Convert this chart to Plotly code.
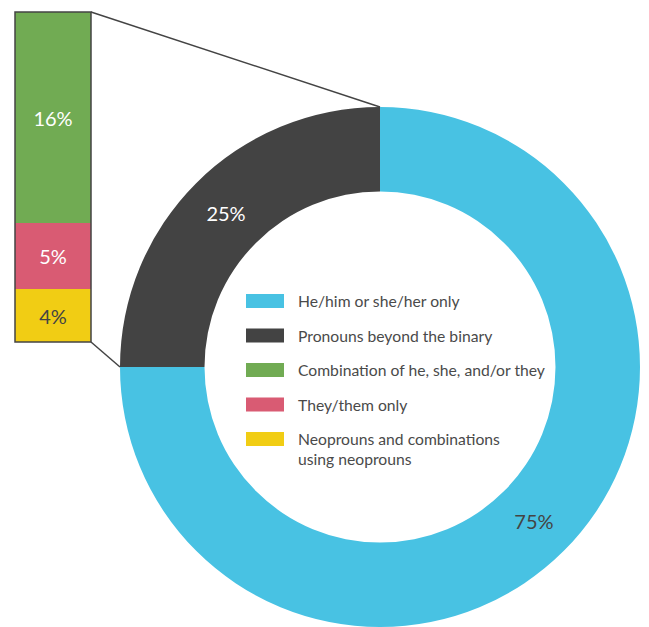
import plotly.graph_objects as go

# ---- data ----
pie_labels = ["He/him or she/her only", "Pronouns beyond the binary"]
pie_values = [75, 25]
pie_colors = ["#48C2E3", "#434343"]
pie_text_colors = ["#444444", "#FFFFFF"]

bar_labels = ["Combination of he, she, and/or they", "They/them only",
              "Neoprouns and combinations<br>using neoprouns"]
bar_values = [16, 5, 4]
bar_colors = ["#71AB53", "#D95B73", "#F1CD14"]
bar_text_colors = ["#FFFFFF", "#FFFFFF", "#444444"]

legend_labels = pie_labels + bar_labels
legend_colors = pie_colors + bar_colors

W, H = 649, 627
FONT = "Lato, 'Noto Sans', sans-serif"
DARK = "#444444"

# layout geometry (paper fractions)
pie_dom_x = [118 / W, 642 / W]
pie_dom_y = [0.0, (H - 107) / H]
bar_dom_x = [15 / W, 91 / W]
bar_dom_y = [(H - 342) / H, (H - 12) / H]

fig = go.Figure()

fig.add_trace(go.Pie(
    labels=pie_labels, values=pie_values, sort=False, direction="clockwise",
    rotation=0, hole=0.675, marker=dict(colors=pie_colors, line=dict(width=0)),
    textinfo="percent", texttemplate="%{value}%", textposition="inside",
    insidetextorientation="horizontal",
    textfont=dict(family=FONT, size=20, color=pie_text_colors),
    domain=dict(x=pie_dom_x, y=pie_dom_y), showlegend=False, hoverinfo="label+percent",
))

# stacked column: bottom-up order
for i in reversed(range(len(bar_values))):
    fig.add_trace(go.Bar(
        x=[0], y=[bar_values[i]], name=bar_labels[i], width=1,
        marker=dict(color=bar_colors[i], line=dict(width=0)),
        text=[f"{bar_values[i]}%"], textposition="inside", insidetextanchor="middle",
        textangle=0, constraintext="none",
        textfont=dict(family=FONT, size=20, color=bar_text_colors[i]),
        showlegend=False, xaxis="x", yaxis="y",
    ))

total = sum(bar_values)
shapes = []
# outline of the column
shapes.append(dict(type="rect", xref="x domain", yref="y domain", x0=0, x1=1, y0=0, y1=1,
                   line=dict(color=DARK, width=1.5), fillcolor="rgba(0,0,0,0)"))

# connector lines from column to the dark slice edges
pw = (pie_dom_x[1] - pie_dom_x[0]) * W
ph = (pie_dom_y[1] - pie_dom_y[0]) * H
r_px = min(pw, ph) / 2
cx = (pie_dom_x[0] + pie_dom_x[1]) / 2
cy = (pie_dom_y[0] + pie_dom_y[1]) / 2
pie_top = (cx, cy + r_px / H)
pie_left = (cx - r_px / W, cy)
shapes.append(dict(type="line", xref="paper", yref="paper",
                   x0=bar_dom_x[1], y0=bar_dom_y[1], x1=pie_top[0], y1=pie_top[1],
                   line=dict(color=DARK, width=1.5)))
shapes.append(dict(type="line", xref="paper", yref="paper",
                   x0=bar_dom_x[1], y0=bar_dom_y[0], x1=pie_left[0], y1=pie_left[1],
                   line=dict(color=DARK, width=1.5)))

# custom legend (wide swatches)
annotations = []
leg_x0 = 246 / W
sw_w = 38 / W
sw_h = 14 / H
txt_x = 296 / W
first_y = (H - 301) / H
step = 34.5 / H
for i, (lab, col) in enumerate(zip(legend_labels, legend_colors)):
    yc = first_y - i * step
    shapes.append(dict(type="rect", xref="paper", yref="paper",
                       x0=leg_x0, x1=leg_x0 + sw_w, y0=yc - sw_h / 2, y1=yc + sw_h / 2,
                       fillcolor=col, line=dict(width=0)))
    multiline = "<br>" in lab
    annotations.append(dict(xref="paper", yref="paper", x=txt_x, y=yc - (9.5 / H if multiline else 0),
                            text=lab, showarrow=False, xanchor="left",
                            yanchor="middle", align="left",
                            font=dict(family=FONT, size=15.7, color="#4a4a4a")))

fig.update_layout(
    width=W, height=H, margin=dict(l=0, r=0, t=0, b=0),
    paper_bgcolor="white", plot_bgcolor="white",
    barmode="stack", bargap=0,
    xaxis=dict(domain=bar_dom_x, range=[-0.5, 0.5], visible=False, fixedrange=True),
    yaxis=dict(domain=bar_dom_y, range=[0, total], visible=False, fixedrange=True),
    shapes=shapes, annotations=annotations,
    uniformtext=dict(mode=False),
)

fig.write_html("out.html")
